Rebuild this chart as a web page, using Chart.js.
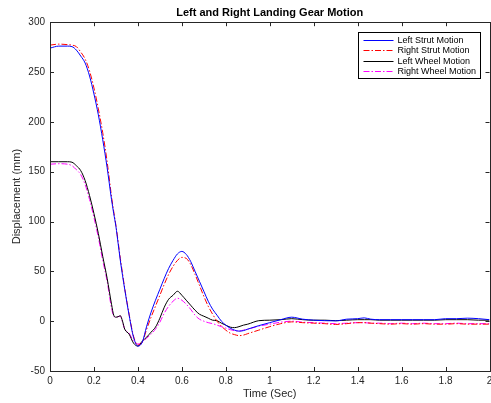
<!DOCTYPE html>
<html>
<head>
<meta charset="utf-8">
<script src="https://cdn.jsdelivr.net/npm/chart.js@4/dist/chart.umd.min.js"></script>
<style>
  html, body { margin: 0; padding: 0; background: #fff; }
  canvas { display: block; }
</style>
</head>
<body>
<canvas id="gearChart" width="491" height="403"></canvas>
<script>
const times = [
  0, 0.04, 0.08, 0.1, 0.12, 0.14, 0.16, 0.18, 0.2, 0.22,
  0.24, 0.26, 0.28, 0.29, 0.3, 0.31, 0.32, 0.33, 0.34, 0.36,
  0.38, 0.4, 0.42, 0.44, 0.46, 0.48, 0.5, 0.52, 0.54, 0.56,
  0.58, 0.6, 0.62, 0.64, 0.66, 0.68, 0.7, 0.72, 0.74, 0.76,
  0.78, 0.8, 0.82, 0.84, 0.86, 0.88, 0.9, 0.95, 1.0, 1.05,
  1.1, 1.15, 1.2, 1.25, 1.3, 1.35, 1.4, 1.43, 1.46, 1.5,
  1.55, 1.6, 1.65, 1.7, 1.75, 1.8, 1.85, 1.9, 1.95, 2.0
];

const leftStrut = [
  274, 276, 276, 275.5, 272, 266, 259, 246, 228, 207,
  182, 154, 122, 108, 95, 78, 61, 46, 32, 6,
  -16, -25, -21, -5, 9, 21, 32, 43, 53, 61,
  67.5, 70, 67, 60, 50, 40, 30, 20, 12, 6,
  0, -4, -7, -9, -10, -9.5, -8, -4.5, -1.5, 1.5,
  4, 2, 1, 0.5, 0.3, 2, 2.5, 3.3, 2, 1.5,
  1.5, 1.5, 1.5, 1.5, 1.5, 2.5, 2.5, 3, 2.5, 1.5
];

const rightStrut = [
  277, 278, 277.5, 277, 275.5, 270, 263, 251, 234, 213,
  189, 160, 125, 110, 96, 80, 63, 48, 33, 7,
  -15, -24, -21, -8, 4, 15, 26, 37, 47, 55,
  61, 64, 63, 57, 47, 36, 25, 15, 7, 0,
  -5, -9, -12, -13.5, -14.5, -14, -12.5, -9, -5.5, -2.5,
  -0.7, -1.5, -2, -2.5, -3.3, -2.5, -1.5, -1.5, -2, -2.5,
  -3, -2.5, -3, -2.5, -3, -3, -2.5, -3, -3, -3
];

const leftWheel = [
  160, 160, 160, 159.5, 156, 151, 141, 126, 108, 88,
  65, 43, 17, 6, 4, 4.5, 5.5, 0, -8, -13,
  -22, -25, -20, -16, -11, -6, 3, 14, 22, 26,
  30, 26, 21, 16, 11, 7, 5, 3, 1, 0.5,
  -2, -4, -6, -6.5, -5.5, -4, -3, 0.5, 1, 1.5,
  2.5, 1.5, 1, 1, 0.5, 1, 1.5, 1.5, 1.5, 1,
  1, 1, 1, 1, 1, 1.5, 1.5, 1.5, 1, 1
];

const rightWheel = [
  157.5, 158, 157.5, 156, 152, 147, 137, 122, 104, 84,
  61, 40, 13, 5, 4, 4.5, 5, -1, -8, -12,
  -20, -23, -21, -17, -13, -8, -1, 8, 15, 20,
  23, 21, 17, 12, 6, 2, 0, -1.5, -2.5, -4,
  -5.5, -7, -8.5, -9.5, -10, -9, -8, -5, -3, -1,
  0, -1, -1.5, -2, -2.5, -2, -1.5, -1.5, -2, -2,
  -2.5, -2, -2.5, -2, -2.5, -2.5, -2, -2.5, -2.5, -2.5
];

const xTicks = ["0", "0.2", "0.4", "0.6", "0.8", "1", "1.2", "1.4", "1.6", "1.8", "2"];
const yTicks = ["-50", "0", "50", "100", "150", "200", "250", "300"];

const seriesNames = ["Left Strut Motion", "Right Strut Motion", "Left Wheel Motion", "Right Wheel Motion"];

const dashDot = [6, 2, 1.5, 2];

function toPoints(arr) {
    return times.map((t, i) => ({ x: t, y: arr[i] }));
}

const axisColor = "#262626";

// matlab style box, inward ticks and legend
const matlabAxes = {
    id: "matlabAxes",
    afterDatasetsDraw(chart) {
        const ctx = chart.ctx;
        const a = chart.chartArea;
        const xs = chart.scales.x;
        const ys = chart.scales.y;
        ctx.save();
        ctx.strokeStyle = axisColor;
        ctx.lineWidth = 1;
        ctx.setLineDash([]);
        ctx.strokeRect(Math.round(a.left) + 0.5, Math.round(a.top) + 0.5,
            Math.round(a.right - a.left), Math.round(a.bottom - a.top));
        const tl = 4;
        ctx.beginPath();
        xs.ticks.forEach(t => {
            const px = Math.round(xs.getPixelForValue(t.value)) + 0.5;
            ctx.moveTo(px, a.bottom); ctx.lineTo(px, a.bottom - tl);
            ctx.moveTo(px, a.top); ctx.lineTo(px, a.top + tl);
        });
        ys.ticks.forEach(t => {
            const py = Math.round(ys.getPixelForValue(t.value)) + 0.5;
            ctx.moveTo(a.left, py); ctx.lineTo(a.left + tl, py);
            ctx.moveTo(a.right, py); ctx.lineTo(a.right - tl, py);
        });
        ctx.stroke();

        // legend
        const bx = Math.round(a.right - 131.5) + 0.5;
        const by = Math.round(a.top + 10) + 0.5;
        const bw = 122;
        const bh = 46;
        ctx.fillStyle = "#fff";
        ctx.fillRect(bx, by, bw, bh);
        ctx.strokeStyle = "#000";
        ctx.strokeRect(bx, by, bw, bh);
        ctx.font = "9px 'Liberation Sans', Arial, sans-serif";
        ctx.textBaseline = "middle";
        ctx.textAlign = "left";
        chart.data.datasets.forEach((ds, i) => {
            const ry = Math.round(by + 7 + i * 10.5) + 0.5;
            ctx.strokeStyle = ds.borderColor;
            ctx.lineWidth = 1;
            ctx.setLineDash(ds.borderDash || []);
            ctx.beginPath();
            ctx.moveTo(bx + 5, ry);
            ctx.lineTo(bx + 35, ry);
            ctx.stroke();
            ctx.fillStyle = "#000";
            ctx.fillText(ds.label, bx + 39, ry);
        });
        ctx.restore();
    }
};

const chart = new Chart(document.getElementById("gearChart"), {
    type: "line",
    data: {
        datasets: [
            {
                label: seriesNames[0],
                data: toPoints(leftStrut),
                borderColor: "#0000ff",
                borderWidth: 1
            },
            {
                label: seriesNames[1],
                data: toPoints(rightStrut),
                borderColor: "#ff0000",
                borderWidth: 1,
                borderDash: dashDot
            },
            {
                label: seriesNames[2],
                data: toPoints(leftWheel),
                borderColor: "#000000",
                borderWidth: 1
            },
            {
                label: seriesNames[3],
                data: toPoints(rightWheel),
                borderColor: "#ff00ff",
                borderWidth: 1,
                borderDash: dashDot
            }
        ]
    },
    options: {
        responsive: false,
        animation: false,
        devicePixelRatio: 1,
        elements: {
            point: { radius: 0 },
            line: { cubicInterpolationMode: "monotone" }
        },
        layout: {
            padding: { left: 0, right: 1.5, top: 0, bottom: 0 }
        },
        plugins: {
            legend: { display: false },
            tooltip: { enabled: false },
            title: {
                display: true,
                fullSize: false,
                text: "Left and Right Landing Gear Motion",
                color: "#000",
                font: { family: "'Liberation Sans', Arial, sans-serif", size: 11, weight: "bold" },
                padding: { top: 6, bottom: 3 }
            }
        },
        scales: {
            x: {
                type: "linear",
                min: 0,
                max: 2,
                afterFit(scale) {
                    scale.height = 32;
                    scale.paddingLeft = 0;
                    scale.paddingRight = 0;
                },
                ticks: {
                    stepSize: 0.2,
                    color: axisColor,
                    padding: 4,
                    maxRotation: 0,
                    font: { family: "'Liberation Sans', Arial, sans-serif", size: 10 },
                    callback: (v, i) => xTicks[i]
                },
                grid: { display: false, drawTicks: false },
                border: { display: false },
                title: {
                    display: true,
                    text: "Time (Sec)",
                    color: axisColor,
                    font: { family: "'Liberation Sans', Arial, sans-serif", size: 11 },
                    padding: { top: 0, bottom: 2 }
                }
            },
            y: {
                min: -50,
                max: 300,
                afterFit(scale) { scale.width = 50; },
                ticks: {
                    stepSize: 50,
                    color: axisColor,
                    padding: 5,
                    font: { family: "'Liberation Sans', Arial, sans-serif", size: 10 },
                    callback: (v, i) => yTicks[i]
                },
                grid: { display: false, drawTicks: false },
                border: { display: false },
                title: {
                    display: true,
                    text: "Displacement (mm)",
                    color: axisColor,
                    font: { family: "'Liberation Sans', Arial, sans-serif", size: 11 },
                    padding: { top: 10, bottom: 0 }
                }
            }
        }
    },
    plugins: [matlabAxes]
});
</script>
</body>
</html>
